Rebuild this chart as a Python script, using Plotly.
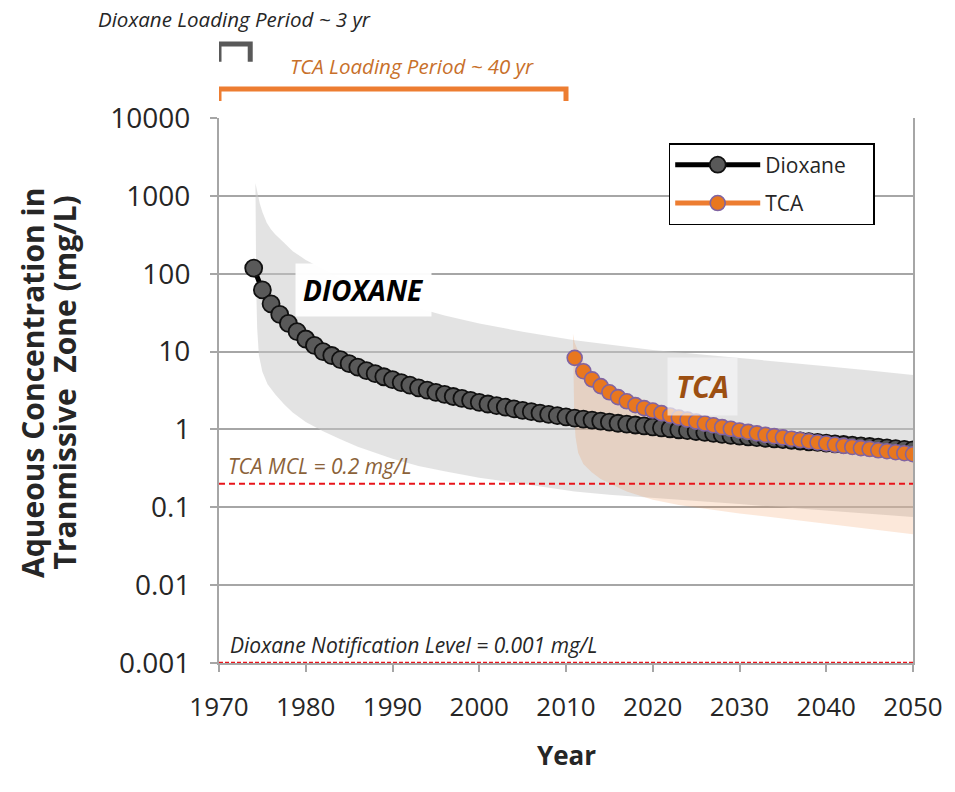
import plotly.graph_objects as go

# ---- Simulated aqueous concentration (mg/L), one value per year ----
DIOX_YEARS = list(range(1974, 2051))
DIOX_CONC = [
    118, 62, 41, 30, 23, 18, 14.5, 12, 10.0, 8.9,          # 1974-1983
    7.9, 7.0, 6.3, 5.7, 5.2, 4.75, 4.35, 4.0, 3.7, 3.42,    # 1984-1993
    3.2, 3.0, 2.82, 2.65, 2.5, 2.36, 2.23, 2.12, 2.02, 1.93,  # 1994-2003
    1.84, 1.76, 1.69, 1.62, 1.56, 1.5, 1.45, 1.40, 1.36, 1.32,  # 2004-2013
    1.28, 1.24, 1.20, 1.17, 1.14, 1.11, 1.08, 1.05, 1.02, 0.99,  # 2014-2023
    0.965, 0.94, 0.915, 0.89, 0.865, 0.84, 0.82, 0.80, 0.785, 0.77,  # 2024-2033
    0.755, 0.74, 0.725, 0.71, 0.695, 0.68, 0.665, 0.652, 0.64, 0.628,  # 2034-2043
    0.616, 0.604, 0.592, 0.58, 0.568, 0.556, 0.545,  # 2044-2050
]

TCA_YEARS = list(range(2011, 2051))
TCA_CONC = [
    8.3, 5.6, 4.4, 3.6, 3.0, 2.6, 2.3, 2.05, 1.88, 1.75,    # 2011-2020
    1.62, 1.51, 1.42, 1.34, 1.26, 1.19, 1.13, 1.07, 1.02, 0.97,  # 2021-2030
    0.93, 0.89, 0.85, 0.82, 0.79, 0.76, 0.73, 0.705, 0.68, 0.66,  # 2031-2040
    0.635, 0.615, 0.595, 0.575, 0.56, 0.54, 0.525, 0.51, 0.495, 0.48,  # 2041-2050
]

# ---- Uncertainty envelopes (upper / lower bounds, mg/L) ----
DIOX_BAND_UP_YEARS = [1974.2, 1974.4, 1974.7, 1975, 1975.5, 1976, 1976.5, 1977.5, 1978.5,
                      1980, 1982, 1984, 1986, 1988, 1990, 1993, 1996, 2000, 2005, 2011,
                      2015, 2020, 2025, 2030, 2035, 2040, 2045, 2050]
DIOX_BAND_UP = [1450, 1100, 800, 620, 450, 370, 320, 250, 195,
                150, 115, 88, 70, 57, 47, 36, 29, 23, 18, 14,
                12.3, 10.5, 9.3, 8.3, 7.3, 6.5, 5.7, 5.0]
DIOX_BAND_LO_YEARS = [1974.2, 1974.25, 1974.3, 1974.4, 1974.6, 1975, 1975.6, 1976.5, 1977.5,
                      1978.5, 1980, 1982, 1984, 1986, 1988, 1990, 1993, 1996, 2000, 2005,
                      2011, 2015, 2020, 2025, 2030, 2035, 2040, 2045, 2050]
DIOX_BAND_LO = [1450, 300, 60, 20, 9, 5.5, 3.8, 2.8, 2.1,
                1.65, 1.25, 0.95, 0.75, 0.6, 0.5, 0.42, 0.34, 0.29, 0.24, 0.2,
                0.16, 0.145, 0.13, 0.12, 0.11, 0.1, 0.09, 0.082, 0.075]

TCA_BAND_UP_YEARS = [2010.8, 2011, 2011.5, 2012, 2013, 2014, 2015, 2016, 2017, 2018,
                     2020, 2022, 2025, 2028, 2030, 2033, 2036, 2040, 2045, 2050]
TCA_BAND_UP = [17, 13, 9.5, 7.5, 5.6, 4.5, 3.8, 3.3, 2.9, 2.6,
               2.2, 1.9, 1.6, 1.35, 1.22, 1.08, 0.96, 0.84, 0.74, 0.66]
TCA_BAND_LO_YEARS = [2010.8, 2010.85, 2010.95, 2011.1, 2011.4, 2012, 2013, 2014, 2015.5,
                     2017, 2020, 2023, 2026, 2030, 2035, 2040, 2045, 2050]
TCA_BAND_LO = [17, 5, 1.5, 0.8, 0.5, 0.36, 0.28, 0.23, 0.19,
               0.16, 0.125, 0.107, 0.095, 0.083, 0.072, 0.062, 0.053, 0.045]

# ---- Regulatory levels (mg/L) ----
TCA_MCL = 0.2
DIOX_NOTIFICATION = 0.001

# ---- Loading periods (years) ----
DIOX_LOAD = (1970, 1973.6)
TCA_LOAD = (1970, 2010)

# ---- Axes ----
X_TICKS = [1970, 1980, 1990, 2000, 2010, 2020, 2030, 2040, 2050]
Y_TICKS = [0.001, 0.01, 0.1, 1, 10, 100, 1000, 10000]
Y_TICK_TEXT = ["0.001", "0.01", "0.1", "1", "10", "100", "1000", "10000"]

FONT = "Open Sans"
TXT = "#262626"
ORANGE = "#ED7D31"
GRID = "#A6A6A6"

fig = go.Figure()

# envelopes
fig.add_trace(go.Scatter(
    x=DIOX_BAND_UP_YEARS + DIOX_BAND_LO_YEARS[::-1],
    y=DIOX_BAND_UP + DIOX_BAND_LO[::-1],
    fill="toself", fillcolor="rgba(200,200,200,0.5)",
    line=dict(width=0), mode="lines", hoverinfo="skip", showlegend=False))
fig.add_trace(go.Scatter(
    x=TCA_BAND_UP_YEARS + TCA_BAND_LO_YEARS[::-1],
    y=TCA_BAND_UP + TCA_BAND_LO[::-1],
    fill="toself", fillcolor="rgba(237,125,49,0.18)",
    line=dict(width=0), mode="lines", hoverinfo="skip", showlegend=False))

# regulatory levels
fig.add_trace(go.Scatter(
    x=[X_TICKS[0], X_TICKS[-1]], y=[TCA_MCL, TCA_MCL], mode="lines",
    line=dict(color="#E8141B", width=2, dash="6px,4px"),
    hoverinfo="skip", showlegend=False, cliponaxis=False))
fig.add_trace(go.Scatter(
    x=[X_TICKS[0], X_TICKS[-1]], y=[DIOX_NOTIFICATION, DIOX_NOTIFICATION], mode="lines",
    line=dict(color="#E8141B", width=2.5, dash="4px,2px"),
    hoverinfo="skip", showlegend=False, cliponaxis=False))

# concentration series
fig.add_trace(go.Scatter(
    x=DIOX_YEARS, y=DIOX_CONC, name="Dioxane\u00a0\u00a0\u00a0\u00a0", mode="lines+markers",
    line=dict(color="black", width=5),
    marker=dict(size=17, color="#595959", line=dict(color="#111111", width=1.8)),
    legendgroup="d"))
fig.add_trace(go.Scatter(
    x=TCA_YEARS, y=TCA_CONC, name="TCA", mode="lines+markers",
    line=dict(color=ORANGE, width=5),
    marker=dict(size=15, color="#E8771F", line=dict(color="#8064A2", width=1.6)),
    legendgroup="t"))

ann = []
def label(text, x, y, size, color, xanchor="center", bold=False, italic=True,
          bg=None, angle=0, pad=0):
    t = text
    if bold:
        t = "<b>" + t + "</b>"
    if italic:
        t = "<i>" + t + "</i>"
    d = dict(text=t, x=x, y=y, xref="paper", yref="paper", xanchor=xanchor,
             yanchor="middle", showarrow=False, textangle=angle,
             font=dict(family=FONT, size=size, color=color), borderpad=pad)
    if bg:
        d["bgcolor"] = bg
    ann.append(d)

label("Dioxane Loading Period ~ 3 yr", 0.023, 1.182, 20.5, TXT)
label("TCA Loading Period ~ 40 yr", 0.278, 1.095, 20.5, "#C8702A")
label("DIOXANE", 0.208, 0.684, 28, "black", bold=True, bg="rgba(255,255,255,0.95)", pad=7)
label("TCA", 0.696, 0.507, 30, "#9C4F12", bold=True, bg="rgba(245,245,247,0.7)", pad=8)
label("TCA MCL = 0.2 mg/L", 0.012, 0.362, 21, "#8B6239", xanchor="left")
label("Dioxane Notification Level = 0.001 mg/L", 0.015, 0.033, 21, TXT, xanchor="left")
label("Aqueous Concentration in", -0.268, 0.514, 30, TXT, bold=True, italic=False, angle=-90)
label("Tranmissive  Zone (mg/L)", -0.2225, 0.514, 30, TXT, bold=True, italic=False, angle=-90)
label("Year", 0.5, -0.169, 26, TXT, bold=True, italic=False)

shapes = [
    dict(type="path", xref="x", yref="paper", line=dict(color="#595959", width=5),
         path=f"M {DIOX_LOAD[0]},1.103 L {DIOX_LOAD[0]},1.136 L {DIOX_LOAD[1]},1.136 L {DIOX_LOAD[1]},1.103"),
    dict(type="path", xref="x", yref="paper", line=dict(color=ORANGE, width=5),
         path=f"M {TCA_LOAD[0]},1.031 L {TCA_LOAD[0]},1.053 L {TCA_LOAD[1]},1.053 L {TCA_LOAD[1]},1.031"),
]

fig.update_layout(
    width=955, height=792,
    margin=dict(l=219, r=35, t=118, b=129),
    paper_bgcolor="white", plot_bgcolor="white",
    font=dict(family=FONT, color=TXT),
    annotations=ann, shapes=shapes,
    legend=dict(x=0.648, y=0.954, xanchor="left", yanchor="top",
                bgcolor="white", bordercolor="black", borderwidth=1.5,
                font=dict(family=FONT, size=21, color=TXT),
                itemwidth=85, tracegroupgap=8, itemclick=False),
    xaxis=dict(range=[X_TICKS[0], X_TICKS[-1]], tickvals=X_TICKS,
               showgrid=False, zeroline=False,
               showline=True, linecolor=GRID, linewidth=2, mirror=False,
               ticks="outside", ticklen=7, tickcolor=GRID, tickwidth=2,
               ticklabelstandoff=13, ticklabeloverflow="allow",
               tickfont=dict(family=FONT, size=26, color=TXT)),
    yaxis=dict(type="log", range=[-3, 4], tickvals=Y_TICKS, ticktext=Y_TICK_TEXT,
               showgrid=True, gridcolor=GRID, gridwidth=2, zeroline=False,
               showline=True, linecolor=GRID, linewidth=2, mirror=True,
               ticks="outside", ticklen=7, tickcolor=GRID, tickwidth=2,
               ticklabelstandoff=14,
               tickfont=dict(family=FONT, size=28, color=TXT)),
)

fig.write_html("out.html")
